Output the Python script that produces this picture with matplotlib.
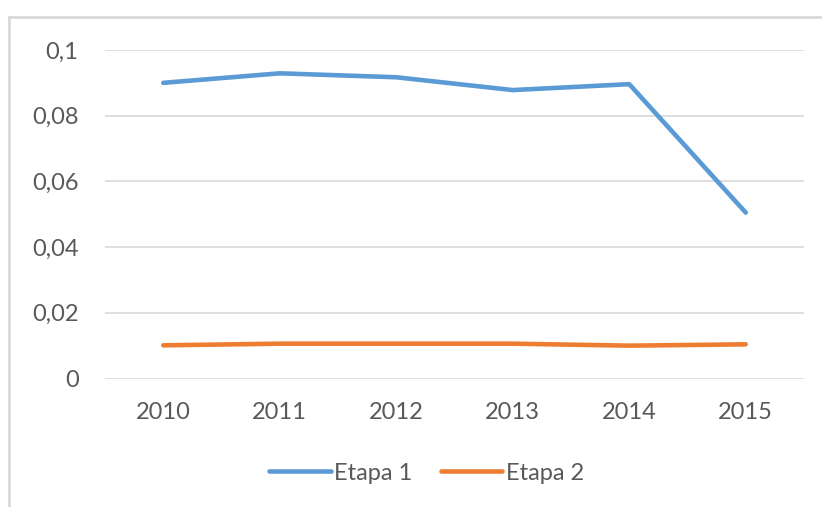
import matplotlib
matplotlib.use("Agg")
import matplotlib.pyplot as plt
from matplotlib.lines import Line2D
from matplotlib.ticker import FuncFormatter

# data
years = ["2010", "2011", "2012", "2013", "2014", "2015"]
etapa1 = [0.0900, 0.0929, 0.0917, 0.0878, 0.0896, 0.0505]
etapa2 = [0.0101, 0.0106, 0.0106, 0.0106, 0.0100, 0.0104]
yticks = [0, 0.02, 0.04, 0.06, 0.08, 0.1]

blue = "#5B9BD5"
orange = "#ED7D31"
grid = "#D9D9D9"
txt = "#595959"

plt.rcParams['font.family'] = ['Lato', 'DejaVu Sans']

W, H = 822, 507
fig = plt.figure(figsize=(W / 100, H / 100), dpi=100)
ax = fig.add_axes([105 / W, 1 - 378.5 / H, (804 - 105) / W, (378.5 - 50) / H])

x = range(len(years))
ax.plot(x, etapa1, color=blue, lw=3.3, solid_capstyle='round', solid_joinstyle='round', label="Etapa 1")
ax.plot(x, etapa2, color=orange, lw=3.3, solid_capstyle='round', solid_joinstyle='round', label="Etapa 2")

ax.set_xlim(-0.5, len(years) - 0.5)
ax.set_ylim(0, 0.1)
ax.set_xticks(list(x))
ax.set_xticklabels(years)
ax.set_yticks(yticks)
# comma decimal separator like the original
ax.yaxis.set_major_formatter(FuncFormatter(lambda v, p: "0" if v == 0 else ("%g" % v).replace(".", ",")))

ax.grid(axis='y', color=grid, lw=1.2)
ax.set_axisbelow(True)
for s in ax.spines.values():
    s.set_visible(False)
ax.tick_params(axis='both', length=0, labelsize=17, labelcolor=txt)
ax.tick_params(axis='x', pad=17)
ax.tick_params(axis='y', pad=19)

# chart border (only top and left visible in the crop)
fig.add_artist(Line2D([9 / W, 1], [1 - 17 / H, 1 - 17 / H], color=grid, lw=2))
fig.add_artist(Line2D([9 / W, 9 / W], [0, 1 - 17 / H], color=grid, lw=2))

handles, labels = ax.get_legend_handles_labels()
fig.legend(handles, labels, loc='center', bbox_to_anchor=(426.5 / W, 1 - 473 / H),
           ncol=2, frameon=False, fontsize=17, labelcolor=txt,
           handlelength=2.6, handletextpad=0.15, columnspacing=1.2)

fig.savefig("out.png", dpi=100)
